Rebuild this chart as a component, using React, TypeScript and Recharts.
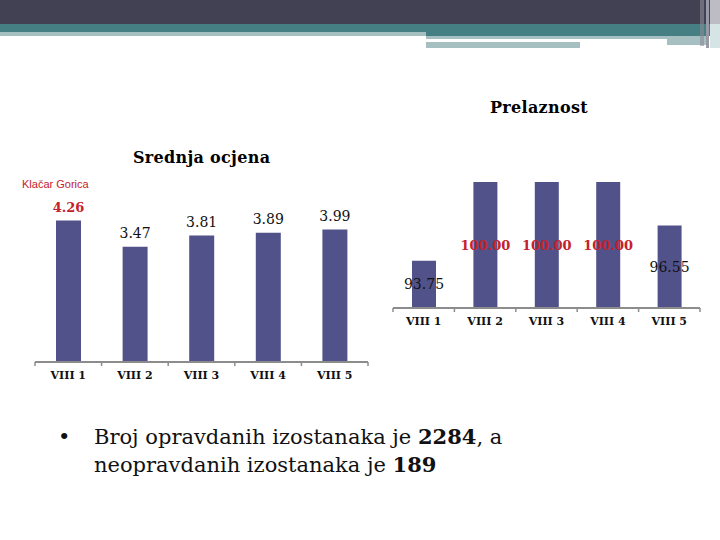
import { Bar, BarChart, LabelList, XAxis, YAxis } from 'recharts';

const categories = ['VIII 1', 'VIII 2', 'VIII 3', 'VIII 4', 'VIII 5'];
const gradeValues = [4.26, 3.47, 3.81, 3.89, 3.99];
const passValues = [93.75, 100.0, 100.0, 100.0, 96.55];
const gradeDomain = [0, 5];
const passDomain = [90, 100];

const gradeData = categories.map((name, i) => ({ name, value: gradeValues[i] }));
const passData = categories.map((name, i) => ({ name, value: passValues[i] }));

const barColor = '#52528a';
const red = '#c5212b';
const serif = "'DejaVu Serif', serif";

function makeTick(band: number, count: number) {
  return (props: any) => {
    const { x, y, payload, index } = props;
    const half = band / 2;
    return (
      <g>
        <line x1={x - half} y1={y} x2={x - half} y2={y + 4} stroke="#8c8c8c" strokeWidth={1.5} />
        {index === count - 1 && (
          <line x1={x + half} y1={y} x2={x + half} y2={y + 4} stroke="#8c8c8c" strokeWidth={1.5} />
        )}
        <text x={x} y={y + 17} textAnchor="middle" fontFamily={serif} fontWeight="bold" fontSize={11} fill="#111">
          {payload.value}
        </text>
      </g>
    );
  };
}

function makeLabel(values: number[], where: 'top' | 'center') {
  const max = Math.max(...values);
  return (props: any) => {
    const { x, y, width, height, value } = props;
    const isMax = value === max;
    const ty = where === 'top' ? y - 9 : y + height / 2 + 5;
    return (
      <text
        x={x + width / 2}
        y={ty}
        textAnchor="middle"
        fontFamily={serif}
        fontSize={isMax ? 13 : 14}
        fontWeight={isMax ? 'bold' : 'normal'}
        fill={isMax ? red : '#111'}
      >
        {value.toFixed(2)}
      </text>
    );
  };
}

function Header() {
  return (
    <>
      <div style={{ position: 'absolute', left: 0, top: 0, width: 720, height: 24, background: '#414153' }} />
      <div style={{ position: 'absolute', left: 0, top: 24, width: 720, height: 12, background: '#467f83' }} />
      <div style={{ position: 'absolute', left: 0, top: 32, width: 426, height: 4, background: '#a6bfc1' }} />
      <div style={{ position: 'absolute', left: 426, top: 36, width: 282, height: 3, background: '#a6bfc1' }} />
      <div style={{ position: 'absolute', left: 426, top: 39, width: 241, height: 3, background: '#ffffff' }} />
      <div style={{ position: 'absolute', left: 667, top: 39, width: 40, height: 6, background: '#a6bfc1' }} />
      <div style={{ position: 'absolute', left: 426, top: 42, width: 154, height: 6, background: '#a6bfc1' }} />
      <div style={{ position: 'absolute', left: 700, top: 0, width: 4, height: 46, background: '#8a8a96', opacity: 0.6 }} />
      <div style={{ position: 'absolute', left: 706, top: 0, width: 3, height: 48, background: '#9a9aa4' }} />
      <div style={{ position: 'absolute', left: 710, top: 0, width: 10, height: 24, background: '#bdbcc4' }} />
      <div style={{ position: 'absolute', left: 710, top: 24, width: 10, height: 24, background: '#d6e4e5' }} />
    </>
  );
}

export default function App() {
  return (
    <div style={{ position: 'absolute', left: 0, top: 0, width: 720, height: 540, background: '#fff', overflow: 'hidden' }}>
      <Header />

      <div style={{ position: 'absolute', left: 133, top: 148, fontFamily: serif, fontWeight: 'bold', fontSize: 16, whiteSpace: 'nowrap', letterSpacing: 0.3 }}>
        Srednja ocjena
      </div>
      <div style={{ position: 'absolute', left: 490, top: 98, fontFamily: serif, fontWeight: 'bold', fontSize: 16, whiteSpace: 'nowrap', letterSpacing: 0.3 }}>
        Prelaznost
      </div>
      <div style={{ position: 'absolute', left: 22, top: 178, fontFamily: "'Liberation Sans', Arial, sans-serif", fontSize: 11, color: red, whiteSpace: 'nowrap' }}>
        Klačar Gorica
      </div>

      <div style={{ position: 'absolute', left: 0, top: 0 }}>
        <BarChart width={400} height={400} data={gradeData} margin={{ top: 196, right: 32, bottom: 8, left: 35 }}>
          <XAxis
            dataKey="name"
            height={30}
            tickSize={0}
            tickMargin={0}
            tickLine={false}
            axisLine={{ stroke: '#8c8c8c', strokeWidth: 2 }}
            interval={0}
            tick={makeTick(333 / categories.length, categories.length)}
          />
          <YAxis hide domain={gradeDomain} />
          <Bar dataKey="value" fill={barColor} barSize={25} isAnimationActive={false}>
            <LabelList dataKey="value" content={makeLabel(gradeValues, 'top')} />
          </Bar>
        </BarChart>
      </div>

      <div style={{ position: 'absolute', left: 380, top: 0 }}>
        <BarChart width={340} height={400} data={passData} margin={{ top: 182, right: 20, bottom: 62, left: 13 }}>
          <XAxis
            dataKey="name"
            height={30}
            tickSize={0}
            tickMargin={0}
            tickLine={false}
            axisLine={{ stroke: '#8c8c8c', strokeWidth: 2 }}
            interval={0}
            tick={makeTick(307 / categories.length, categories.length)}
          />
          <YAxis hide domain={passDomain} allowDataOverflow />
          <Bar dataKey="value" fill={barColor} barSize={24} isAnimationActive={false}>
            <LabelList dataKey="value" content={makeLabel(passValues, 'center')} />
          </Bar>
        </BarChart>
      </div>

      <div style={{ position: 'absolute', left: 58, top: 423, fontFamily: serif, fontSize: 21, lineHeight: '28px', color: '#111' }}>
        <span style={{ position: 'absolute', left: 0, top: 0 }}>•</span>
        <div style={{ position: 'absolute', left: 36, top: 0, whiteSpace: 'nowrap' }}>
          Broj opravdanih izostanaka je <b>2284</b>, a
          <br />
          neopravdanih izostanaka je <b>189</b>
        </div>
      </div>
    </div>
  );
}
